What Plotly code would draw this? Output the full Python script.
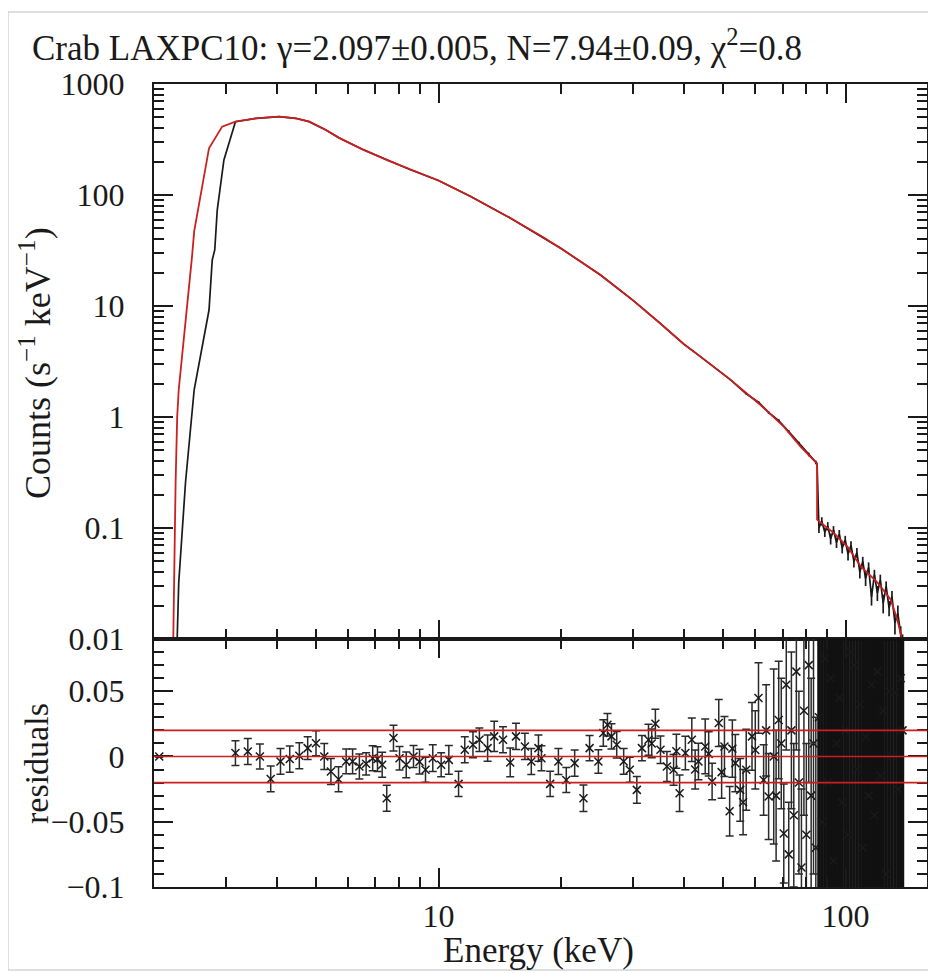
import plotly.graph_objects as go

# ---------------- data ----------------
# red model curve (top panel)
model_energy = [2.23, 2.24, 2.26, 2.28, 2.30, 2.48, 2.51, 2.73, 2.94, 3.17, 3.56, 4.06, 4.46,
                4.81, 5.29, 5.70, 6.5, 7.5, 8.5, 10.0, 12.0, 15.0, 18.0, 20.0, 25.0, 30.0, 35.0,
                40.0, 44.0, 52.1, 61.7, 70.5, 77.5, 84.4, 85.1, 85.1, 93.6, 101.0, 109.0, 120.0,
                129.0, 134.0, 136.5, 138.0, 139.0]
model_counts = [0.01, 0.032, 0.26, 1.0, 1.76, 28.0, 47.0, 264.0, 413.0, 458.0, 491.0, 508.0, 491.0,
                458.0, 385.0, 327.0, 258.0, 205.0, 170.0, 135.0, 97.0, 62.0, 42.0, 33.0, 19.0, 11.3, 7.0,
                4.55, 3.5, 2.17, 1.29, 0.82, 0.54, 0.385, 0.38, 0.119, 0.090, 0.068, 0.045, 0.032,
                0.0227, 0.015, 0.0114, 0.0100, 0.0085]

# black data (top panel)
data_energy = [2.28, 2.30, 2.39, 2.51, 2.73, 2.78, 2.82, 2.86, 2.97, 3.17, 3.56, 4.06, 4.46,
               4.81, 5.29, 5.70, 6.5, 7.5, 8.5, 10.0, 12.0, 15.0, 18.0, 20.0, 25.0, 30.0, 35.0,
               40.0, 44.0, 52.1, 57.0, 61.1, 64.7, 68.5, 72.5, 76.8, 81.2, 84.5, 85.1,
               86.0, 87.4, 88.9, 90.4, 91.9, 93.4, 95.0, 96.5, 98.1, 99.8, 101.4, 103.1, 104.8,
               106.6, 108.4, 110.2, 112.0, 113.9, 115.8, 117.7, 119.7, 121.7, 123.7, 125.8,
               127.9, 130.0, 132.2, 134.4, 136.6, 138.0]
data_counts = [0.01, 0.032, 0.257, 1.76, 9.2, 26.0, 32.0, 73.0, 207.0, 458.0, 491.0, 508.0, 491.0,
               458.0, 385.0, 327.0, 258.0, 205.0, 170.0, 135.0, 97.0, 62.0, 42.0, 33.0, 19.0, 11.3, 7.0,
               4.55, 3.5, 2.17, 1.62, 1.36, 1.10, 0.93, 0.74, 0.58, 0.46, 0.39, 0.38,
               0.100, 0.115, 0.092, 0.104, 0.080, 0.096, 0.074, 0.088, 0.066, 0.078, 0.058, 0.070,
               0.050, 0.060, 0.040, 0.050, 0.035, 0.044, 0.024, 0.038, 0.026, 0.034, 0.021, 0.030,
               0.019, 0.024, 0.014, 0.017, 0.011, 0.009]
data_err = [0, 0, 0, 0, 0, 0, 0, 0, 0, 0, 0, 0, 0,
            0, 0, 0, 0, 0, 0, 0, 0, 0, 0, 0, 0, 0, 0,
            0, 0, 0.03, 0.03, 0.03, 0.03, 0.025, 0.02, 0.02, 0.018, 0.015, 0.0,
            0.010, 0.010, 0.009, 0.009, 0.009, 0.008, 0.008, 0.008, 0.007, 0.007, 0.007, 0.006,
            0.006, 0.006, 0.005, 0.005, 0.005, 0.005, 0.004, 0.004, 0.004, 0.004, 0.004, 0.003,
            0.003, 0.003, 0.003, 0.003, 0.002, 0.002]

# residuals (bottom panel), well-measured channels
res_energy = [2.06, 3.17, 3.40, 3.64, 3.87, 4.09, 4.31, 4.55, 4.77, 5.00, 5.24, 5.44, 5.68, 5.93,
              6.15, 6.39, 6.64, 6.89, 7.08, 7.27, 7.46, 7.75, 8.02, 8.33, 8.68, 8.98, 9.29, 9.68,
              10.15, 10.6, 11.2, 11.6, 12.15, 12.6, 13.2, 13.7, 14.4, 15.0, 15.5, 16.3, 16.9,
              17.6, 17.9, 18.8, 19.7, 20.6, 21.6, 22.7, 23.5, 24.7, 25.4, 26.0, 26.6, 27.4,
              28.5, 29.5, 30.7, 31.6, 32.8, 33.4, 34.1, 35.1, 36.4, 37.8, 38.4, 39.1, 40.4,
              41.9, 42.7, 43.5, 45.2, 46.1, 47.0, 48.8, 49.6, 50.4, 51.9, 52.7, 53.6, 55.1,
              56.0, 57.0, 58.9, 60.0, 61.1, 62.9, 63.8, 64.7, 66.6, 67.5, 68.5, 69.5, 70.5,
              71.5, 72.5, 73.6, 74.6, 75.7, 76.8, 77.9, 79.0, 80.1, 81.2, 82.3, 83.4, 84.5]
res_value = [0.0, 0.0026, 0.0038, 0.0, -0.0172, -0.0038, -0.002, 0.0005, 0.0064, 0.0102, 0.0, -0.0115,
             -0.0174, -0.0038, -0.0038, -0.0077, -0.0056, -0.0013, -0.002, -0.0064, -0.032, 0.0141,
             -0.0013, -0.0064, 0.0, -0.004, -0.0102, -0.0013, -0.0064, -0.0026, -0.021, 0.0051,
             0.009, 0.0128, 0.0064, 0.0154, 0.0128, -0.0046, 0.0154, 0.0077, -0.0038,
             0.0064, -0.0013, -0.021, -0.0038, -0.018, -0.0051, -0.032, 0.0064, -0.0038, 0.018,
             0.0243, 0.0154, 0.009, -0.0038, -0.0102, -0.0256, 0.0064, 0.0128, 0.010, 0.0251,
             0.0051, -0.0077, -0.0102, 0.004, -0.0282, 0.0026, 0.0128, -0.010, -0.0038, 0.0077,
             0.002, -0.0192, 0.0256, -0.012, 0.0077, -0.042, 0.006, -0.0051, -0.0256, -0.035,
             -0.0102, 0.0154, 0.005, 0.0448, -0.018, 0.020, -0.0307, 0.0, -0.030, 0.028, 0.010,
             -0.059, 0.055, -0.075, 0.020, -0.045, 0.065, -0.020, -0.085, 0.035, -0.060, 0.070,
             -0.030, 0.010, -0.070]
res_err = [0.0005, 0.0095, 0.0099, 0.0096, 0.0099, 0.0099, 0.010, 0.010, 0.0087, 0.0096, 0.010, 0.0099,
           0.0096, 0.0095, 0.0095, 0.0096, 0.0085, 0.0096, 0.0095, 0.0096, 0.0099, 0.0099,
           0.009, 0.0099, 0.0085, 0.0095, 0.0096, 0.0102, 0.0092, 0.011, 0.0096, 0.010,
           0.010, 0.009, 0.010, 0.0115, 0.010, 0.011, 0.010, 0.010, 0.010,
           0.010, 0.0096, 0.0096, 0.010, 0.0096, 0.010, 0.0102, 0.0096, 0.009, 0.0102,
           0.0087, 0.0096, 0.0102, 0.0099, 0.0096, 0.0102, 0.0096, 0.0118, 0.011, 0.0111,
           0.0105, 0.0115, 0.0118, 0.013, 0.014, 0.0128, 0.0166, 0.015, 0.014, 0.021,
           0.017, 0.014, 0.018, 0.020, 0.023, 0.019, 0.022, 0.022, 0.024, 0.025,
           0.031, 0.026, 0.030, 0.027, 0.027, 0.035, 0.033, 0.067, 0.050, 0.045, 0.050,
           0.038, 0.050, 0.040, 0.060, 0.055, 0.060, 0.070, 0.060, 0.080, 0.070, 0.090,
           0.090, 0.100, 0.100]

# residuals, noisy high-energy channels
hi_energy = [86.0, 87.4, 88.9, 90.4, 91.9, 93.4, 95.0, 96.5, 98.1, 99.8, 101.4, 103.1, 104.8,
             106.6, 108.4, 110.2, 112.0, 113.9, 115.8, 117.7, 119.7, 121.7, 123.7, 125.8,
             127.9, 130.0, 132.2, 134.4, 136.6, 138.0]
hi_value = [0.03, -0.05, 0.075, -0.02, 0.06, -0.08, 0.01, 0.045, -0.035, 0.02, -0.06, 0.08,
            0.07, -0.01, 0.04, -0.07, 0.015, -0.03, 0.055, -0.045, 0.065, -0.015, 0.035, -0.09,
            0.05, 0.0, 0.049, -0.025, 0.06, 0.02]
hi_err = [0.20, 0.22, 0.20, 0.25, 0.22, 0.25, 0.25, 0.30, 0.30, 0.28, 0.30, 0.32, 0.30,
          0.35, 0.30, 0.35, 0.33, 0.35, 0.38, 0.35, 0.40, 0.38, 0.40, 0.42, 0.40, 0.45,
          0.42, 0.45, 0.50, 0.50]

ref_levels = [-0.02, 0.0, 0.02]

x_tickvals = [10, 100]
x_ticktext = ["10", "100"]
x_minor = [3, 4, 5, 6, 7, 8, 9, 20, 30, 40, 50, 60, 70, 80, 90]
y_tickvals = [0.01, 0.1, 1, 10, 100, 1000]
y_ticktext = ["0.01", "0.1", "1", "10", "100", "1000"]
y_minor = [m * d for d in [0.01, 0.1, 1, 10, 100] for m in [2, 3, 4, 5, 6, 7, 8, 9]]
r_tickvals = [-0.1, -0.05, 0, 0.05]
r_ticktext = ["\u22120.1", "\u22120.05", "0", "0.05"]

# ---------------- figure ----------------
W, H = 936, 973
OFF = 8                      # page body margin in the browser
L, T = 154 - OFF, 84 - OFF
R = W - (927 - OFF)
B = H - (887 - OFF)
PW, PH = W - L - R, H - T - B
split = (887 - 639) / PH

FONT = "Liberation Serif"
INK = "#1a1a1a"
RED = "#cc1f1f"

def px_x(p):
    return (p - OFF - L) / PW

def px_y(p):
    return (H - B - (p - OFF)) / PH

fig = go.Figure()

fig.add_trace(go.Scatter(
    x=data_energy, y=data_counts, mode="lines", xaxis="x", yaxis="y",
    line=dict(color=INK, width=1.7),
    error_y=dict(type="data", array=data_err, visible=True, color=INK, thickness=1.7, width=0),
    showlegend=False))
fig.add_trace(go.Scatter(
    x=model_energy, y=model_counts, mode="lines", xaxis="x", yaxis="y",
    line=dict(color=RED, width=1.8), showlegend=False))

fig.add_trace(go.Scatter(
    x=res_energy, y=res_value, mode="markers", xaxis="x2", yaxis="y2",
    marker=dict(symbol="x-thin", size=8, line=dict(width=1.5, color=INK), color=INK),
    error_y=dict(type="data", array=res_err, visible=True, color="#2a2a2a", thickness=1.5, width=4),
    showlegend=False))
fig.add_trace(go.Scatter(
    x=hi_energy, y=hi_value, mode="markers", xaxis="x2", yaxis="y2",
    marker=dict(symbol="x-thin", size=8, line=dict(width=1.5, color=INK), color=INK),
    error_y=dict(type="data", array=hi_err, visible=True, color="#111111", thickness=3.4, width=4),
    showlegend=False))

for lv in ref_levels:
    fig.add_shape(type="line", xref="x2 domain", yref="y2", x0=0, x1=1, y0=lv, y1=lv,
                  line=dict(color=RED, width=1.6), layer="above")

axis_common = dict(showline=True, linecolor=INK, linewidth=2, mirror="ticks",
                   ticks="inside", ticklen=19, tickwidth=1.5, tickcolor=INK,
                   showgrid=False, zeroline=False,
                   tickfont=dict(family=FONT, size=32, color=INK))

fig.update_layout(
    width=W, height=H, margin=dict(l=L, r=R, t=T, b=B),
    paper_bgcolor="white", plot_bgcolor="white",
    font=dict(family=FONT, color=INK),
    xaxis=dict(type="log", range=[0.301, 2.2], domain=[0, 1], anchor="y",
               tickvals=x_tickvals, ticktext=x_ticktext, showticklabels=False,
               minor=dict(tickvals=x_minor, ticks="inside", ticklen=10, tickwidth=1.5,
                          tickcolor=INK, showgrid=False),
               **axis_common),
    xaxis2=dict(type="log", range=[0.301, 2.2], domain=[0, 1], anchor="y2", matches="x",
                tickvals=x_tickvals, ticktext=x_ticktext, ticklabelstandoff=0,
                minor=dict(tickvals=x_minor, ticks="inside", ticklen=10, tickwidth=1.5,
                           tickcolor=INK, showgrid=False),
                **axis_common),
    yaxis=dict(type="log", range=[-2, 3], domain=[split, 1], anchor="x",
               tickvals=y_tickvals, ticktext=y_ticktext, ticklabelstandoff=21,
               minor=dict(tickvals=y_minor, ticks="inside", ticklen=10, tickwidth=1.5,
                          tickcolor=INK, showgrid=False),
               **axis_common),
    yaxis2=dict(range=[-0.1, 0.09], domain=[0, split], anchor="x2",
                tickvals=r_tickvals, ticktext=r_ticktext, ticklabelstandoff=21,
                minor=dict(dtick=0.01, tick0=0, ticks="inside", ticklen=10, tickwidth=1.5,
                           tickcolor=INK, showgrid=False),
                **axis_common),
)

annotations = [
    dict(text="Crab LAXPC10: \u03b3=2.097\u00b10.005, N=7.94\u00b10.09, \u03c7<sup>2</sup>=0.8",
         x=px_x(30), y=px_y(45), xanchor="left", yanchor="middle", font_size=35),
    dict(text="Energy (keV)", x=px_x(538), y=px_y(950), xanchor="center", yanchor="middle",
         font_size=35),
    dict(text="Counts (s<sup>\u22121</sup> keV<sup>\u22121</sup>)", x=px_x(36), y=px_y(363),
         xanchor="center", yanchor="middle", textangle=-90, font_size=36),
    dict(text="residuals", x=px_x(36), y=px_y(764), xanchor="center", yanchor="middle",
         textangle=-90, font_size=34),
]
for a in annotations:
    fs = a.pop("font_size")
    fig.add_annotation(xref="paper", yref="paper", showarrow=False,
                       font=dict(family=FONT, size=fs, color=INK), **a)

# faint outer frame of the original picture
fig.add_shape(type="rect", xref="paper", yref="paper",
              x0=px_x(8), x1=px_x(933), y0=px_y(970), y1=px_y(12),
              line=dict(color="#d4d4d4", width=1.5), layer="below")

fig.write_html("out.html")
